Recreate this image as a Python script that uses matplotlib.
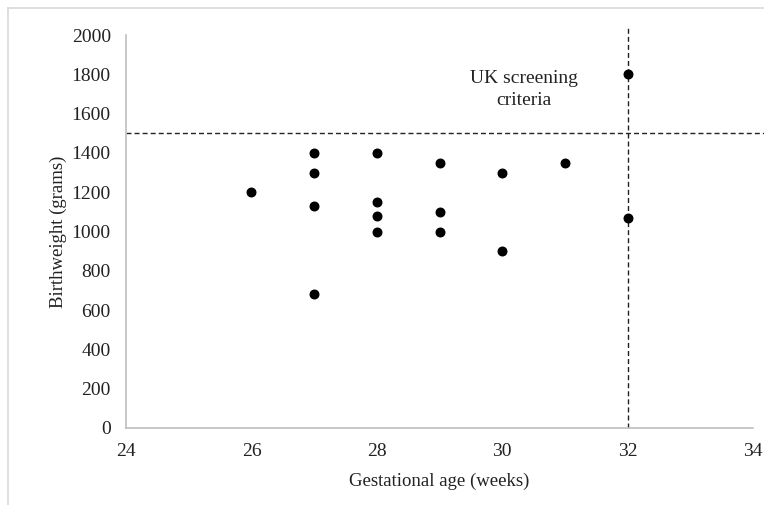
import matplotlib.pyplot as plt
from matplotlib.lines import Line2D

# Data
gest_age = [26, 27, 27, 27, 27, 28, 28, 28, 28, 29, 29, 29, 30, 30, 31, 32, 32]
birthweight = [1200, 1400, 1300, 1130, 680, 1400, 1150, 1080, 1000,
               1350, 1100, 1000, 1300, 900, 1350, 1800, 1070]
weight_cutoff = 1500
age_cutoff = 32
x_ticks = [24, 26, 28, 30, 32, 34]
y_ticks = [0, 200, 400, 600, 800, 1000, 1200, 1400, 1600, 1800, 2000]

plt.rcParams['font.family'] = ['Liberation Serif', 'DejaVu Serif']

fig = plt.figure(figsize=(7.64, 5.05), dpi=100)
ax = fig.add_axes([0.165, 0.1525, 0.8206, 0.778])

ax.scatter(gest_age, birthweight, s=38, color='black', zorder=3)

dash = (3.6, 2.2)
ax.plot([24, 34.2], [weight_cutoff, weight_cutoff], color='#222222', lw=1.0,
        dashes=dash, clip_on=False)
ax.plot([age_cutoff, age_cutoff], [0, 2036], color='#222222', lw=1.0,
        dashes=dash, clip_on=False)

ax.text(30.35, 1725, "UK screening\ncriteria", ha='center', va='center',
        fontsize=14, color='#222222', linespacing=1.4)

ax.set_xlim(24, 34)
ax.set_ylim(0, 2000)
ax.set_xticks(x_ticks)
ax.set_yticks(y_ticks)
ax.tick_params(axis='both', length=0, labelsize=14, colors='#222222')
ax.tick_params(axis='y', pad=11)
ax.tick_params(axis='x', pad=11)

for side in ['top', 'right']:
    ax.spines[side].set_visible(False)
for side in ['left', 'bottom']:
    ax.spines[side].set_color('#bfbfbf')
    ax.spines[side].set_linewidth(1.2)

ax.set_xlabel("Gestational age (weeks)", fontsize=13.5, color='#222222', labelpad=9)
ax.set_ylabel("Birthweight (grams)", fontsize=13.5, color='#222222', labelpad=3)

# light frame around the chart area (top and left edges visible)
fig.add_artist(Line2D([8 / 764, 1], [1 - 8 / 505, 1 - 8 / 505],
                      transform=fig.transFigure, color='#d9d9d9', lw=1.2))
fig.add_artist(Line2D([8 / 764, 8 / 764], [0, 1 - 8 / 505],
                      transform=fig.transFigure, color='#d9d9d9', lw=1.2))

fig.savefig("out.png", dpi=100)
